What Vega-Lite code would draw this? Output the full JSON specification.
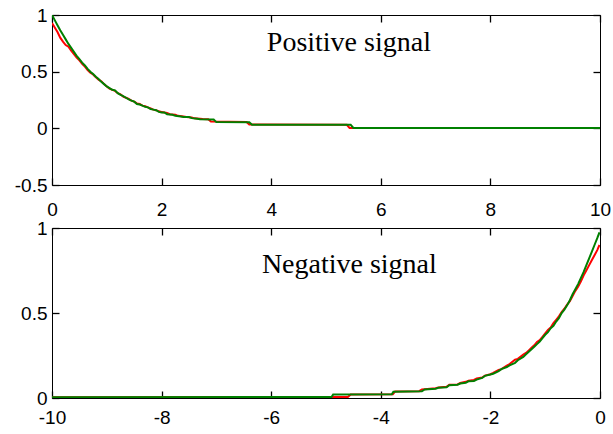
{
  "$schema": "https://vega.github.io/schema/vega-lite/v6.json",
  "padding": {"left": 13, "top": 5, "right": 1, "bottom": 2},
  "background": "white",
  "spacing": 43,
  "bounds": "flush",
  "config": {
    "view": {"stroke": "black", "strokeWidth": 1},
    "axis": {
      "grid": false,
      "title": null,
      "domain": false,
      "ticks": true,
      "tickColor": "black",
      "tickWidth": 1.3,
      "tickSize": 7,
      "offset": -7,
      "labelColor": "black",
      "labelFont": "Liberation Sans",
      "labelFontSize": 19,
      "labelFlush": false,
      "labelOverlap": false,
      "labelExpr": "'' + datum.value"
    }
  },
  "datasets": {
    "pos": [
      {"series": "red", "x": 0, "y": 0.93}, {"series": "red", "x": 0.05, "y": 0.89}, {"series": "red", "x": 0.1, "y": 0.85}, {"series": "red", "x": 0.15, "y": 0.8}, {"series": "red", "x": 0.2, "y": 0.765}, {"series": "red", "x": 0.25, "y": 0.735}, {"series": "red", "x": 0.3, "y": 0.72}, {"series": "red", "x": 0.35, "y": 0.685}, {"series": "red", "x": 0.4, "y": 0.655}, {"series": "red", "x": 0.45, "y": 0.625}, {"series": "red", "x": 0.5, "y": 0.6}, {"series": "red", "x": 0.55, "y": 0.57}, {"series": "red", "x": 0.6, "y": 0.545}, {"series": "red", "x": 0.65, "y": 0.515}, {"series": "red", "x": 0.7, "y": 0.49}, {"series": "red", "x": 0.75, "y": 0.475}, {"series": "red", "x": 0.8, "y": 0.45}, {"series": "red", "x": 0.85, "y": 0.43}, {"series": "red", "x": 0.9, "y": 0.415}, {"series": "red", "x": 0.95, "y": 0.39}, {"series": "red", "x": 1.0, "y": 0.37}, {"series": "red", "x": 1.05, "y": 0.35}, {"series": "red", "x": 1.1, "y": 0.34}, {"series": "red", "x": 1.15, "y": 0.33}, {"series": "red", "x": 1.2, "y": 0.31}, {"series": "red", "x": 1.25, "y": 0.3}, {"series": "red", "x": 1.3, "y": 0.28}, {"series": "red", "x": 1.35, "y": 0.27}, {"series": "red", "x": 1.4, "y": 0.26}, {"series": "red", "x": 1.45, "y": 0.245}, {"series": "red", "x": 1.5, "y": 0.235}, {"series": "red", "x": 1.55, "y": 0.22}, {"series": "red", "x": 1.6, "y": 0.215}, {"series": "red", "x": 1.65, "y": 0.2}, {"series": "red", "x": 1.7, "y": 0.195}, {"series": "red", "x": 1.75, "y": 0.185}, {"series": "red", "x": 1.8, "y": 0.175}, {"series": "red", "x": 1.85, "y": 0.165}, {"series": "red", "x": 1.9, "y": 0.16}, {"series": "red", "x": 1.95, "y": 0.15}, {"series": "red", "x": 2.0, "y": 0.145}, {"series": "red", "x": 2.1, "y": 0.135}, {"series": "red", "x": 2.15, "y": 0.125}, {"series": "red", "x": 2.25, "y": 0.12}, {"series": "red", "x": 2.3, "y": 0.11}, {"series": "red", "x": 2.4, "y": 0.105}, {"series": "red", "x": 2.45, "y": 0.1}, {"series": "red", "x": 2.55, "y": 0.095}, {"series": "red", "x": 2.6, "y": 0.088}, {"series": "red", "x": 2.75, "y": 0.082}, {"series": "red", "x": 2.85, "y": 0.08}, {"series": "red", "x": 2.9, "y": 0.06}, {"series": "red", "x": 3.55, "y": 0.056}, {"series": "red", "x": 3.6, "y": 0.033}, {"series": "red", "x": 5.38, "y": 0.031}, {"series": "red", "x": 5.43, "y": 0.003}, {"series": "red", "x": 10, "y": 0.002},
      {"series": "green", "x": 0, "y": 1.0}, {"series": "green", "x": 0.05, "y": 0.955}, {"series": "green", "x": 0.1, "y": 0.91}, {"series": "green", "x": 0.15, "y": 0.865}, {"series": "green", "x": 0.2, "y": 0.825}, {"series": "green", "x": 0.25, "y": 0.785}, {"series": "green", "x": 0.3, "y": 0.745}, {"series": "green", "x": 0.35, "y": 0.71}, {"series": "green", "x": 0.4, "y": 0.675}, {"series": "green", "x": 0.45, "y": 0.64}, {"series": "green", "x": 0.5, "y": 0.61}, {"series": "green", "x": 0.55, "y": 0.58}, {"series": "green", "x": 0.6, "y": 0.555}, {"series": "green", "x": 0.65, "y": 0.525}, {"series": "green", "x": 0.7, "y": 0.5}, {"series": "green", "x": 0.75, "y": 0.48}, {"series": "green", "x": 0.8, "y": 0.455}, {"series": "green", "x": 0.85, "y": 0.435}, {"series": "green", "x": 0.9, "y": 0.41}, {"series": "green", "x": 0.95, "y": 0.39}, {"series": "green", "x": 1.0, "y": 0.37}, {"series": "green", "x": 1.05, "y": 0.355}, {"series": "green", "x": 1.1, "y": 0.34}, {"series": "green", "x": 1.15, "y": 0.335}, {"series": "green", "x": 1.2, "y": 0.31}, {"series": "green", "x": 1.25, "y": 0.295}, {"series": "green", "x": 1.3, "y": 0.285}, {"series": "green", "x": 1.35, "y": 0.27}, {"series": "green", "x": 1.4, "y": 0.255}, {"series": "green", "x": 1.45, "y": 0.245}, {"series": "green", "x": 1.5, "y": 0.235}, {"series": "green", "x": 1.55, "y": 0.215}, {"series": "green", "x": 1.6, "y": 0.21}, {"series": "green", "x": 1.65, "y": 0.2}, {"series": "green", "x": 1.7, "y": 0.19}, {"series": "green", "x": 1.75, "y": 0.185}, {"series": "green", "x": 1.8, "y": 0.17}, {"series": "green", "x": 1.85, "y": 0.165}, {"series": "green", "x": 1.9, "y": 0.16}, {"series": "green", "x": 1.95, "y": 0.145}, {"series": "green", "x": 2.0, "y": 0.14}, {"series": "green", "x": 2.05, "y": 0.14}, {"series": "green", "x": 2.1, "y": 0.125}, {"series": "green", "x": 2.2, "y": 0.12}, {"series": "green", "x": 2.25, "y": 0.11}, {"series": "green", "x": 2.35, "y": 0.105}, {"series": "green", "x": 2.4, "y": 0.1}, {"series": "green", "x": 2.5, "y": 0.1}, {"series": "green", "x": 2.55, "y": 0.09}, {"series": "green", "x": 2.65, "y": 0.085}, {"series": "green", "x": 2.7, "y": 0.08}, {"series": "green", "x": 2.95, "y": 0.078}, {"series": "green", "x": 3.0, "y": 0.055}, {"series": "green", "x": 3.6, "y": 0.054}, {"series": "green", "x": 3.65, "y": 0.031}, {"series": "green", "x": 5.45, "y": 0.031}, {"series": "green", "x": 5.5, "y": 0.003}, {"series": "green", "x": 10, "y": 0.002}
    ],
    "neg": [
      {"series": "red", "x": -10, "y": 0.005}, {"series": "red", "x": -4.6, "y": 0.006}, {"series": "red", "x": -4.55, "y": 0.02}, {"series": "red", "x": -3.78, "y": 0.022}, {"series": "red", "x": -3.74, "y": 0.038}, {"series": "red", "x": -3.3, "y": 0.04}, {"series": "red", "x": -3.25, "y": 0.05}, {"series": "red", "x": -3.0, "y": 0.058}, {"series": "red", "x": -2.95, "y": 0.062}, {"series": "red", "x": -2.8, "y": 0.066}, {"series": "red", "x": -2.75, "y": 0.078}, {"series": "red", "x": -2.6, "y": 0.08}, {"series": "red", "x": -2.55, "y": 0.088}, {"series": "red", "x": -2.45, "y": 0.095}, {"series": "red", "x": -2.4, "y": 0.102}, {"series": "red", "x": -2.3, "y": 0.106}, {"series": "red", "x": -2.25, "y": 0.115}, {"series": "red", "x": -2.15, "y": 0.12}, {"series": "red", "x": -2.1, "y": 0.132}, {"series": "red", "x": -2.0, "y": 0.14}, {"series": "red", "x": -1.95, "y": 0.148}, {"series": "red", "x": -1.85, "y": 0.165}, {"series": "red", "x": -1.8, "y": 0.17}, {"series": "red", "x": -1.7, "y": 0.19}, {"series": "red", "x": -1.65, "y": 0.2}, {"series": "red", "x": -1.55, "y": 0.225}, {"series": "red", "x": -1.5, "y": 0.23}, {"series": "red", "x": -1.4, "y": 0.255}, {"series": "red", "x": -1.35, "y": 0.265}, {"series": "red", "x": -1.3, "y": 0.28}, {"series": "red", "x": -1.25, "y": 0.295}, {"series": "red", "x": -1.2, "y": 0.31}, {"series": "red", "x": -1.15, "y": 0.33}, {"series": "red", "x": -1.1, "y": 0.34}, {"series": "red", "x": -1.05, "y": 0.36}, {"series": "red", "x": -1.0, "y": 0.38}, {"series": "red", "x": -0.95, "y": 0.4}, {"series": "red", "x": -0.9, "y": 0.415}, {"series": "red", "x": -0.85, "y": 0.44}, {"series": "red", "x": -0.8, "y": 0.46}, {"series": "red", "x": -0.75, "y": 0.48}, {"series": "red", "x": -0.7, "y": 0.505}, {"series": "red", "x": -0.65, "y": 0.525}, {"series": "red", "x": -0.6, "y": 0.55}, {"series": "red", "x": -0.55, "y": 0.57}, {"series": "red", "x": -0.5, "y": 0.6}, {"series": "red", "x": -0.45, "y": 0.63}, {"series": "red", "x": -0.4, "y": 0.655}, {"series": "red", "x": -0.35, "y": 0.685}, {"series": "red", "x": -0.3, "y": 0.72}, {"series": "red", "x": -0.25, "y": 0.75}, {"series": "red", "x": -0.2, "y": 0.78}, {"series": "red", "x": -0.15, "y": 0.81}, {"series": "red", "x": -0.1, "y": 0.84}, {"series": "red", "x": -0.05, "y": 0.87}, {"series": "red", "x": -0.01, "y": 0.9},
      {"series": "green", "x": -10, "y": 0.005}, {"series": "green", "x": -4.9, "y": 0.006}, {"series": "green", "x": -4.87, "y": 0.02}, {"series": "green", "x": -3.8, "y": 0.022}, {"series": "green", "x": -3.77, "y": 0.037}, {"series": "green", "x": -3.25, "y": 0.039}, {"series": "green", "x": -3.2, "y": 0.05}, {"series": "green", "x": -3.0, "y": 0.055}, {"series": "green", "x": -2.95, "y": 0.06}, {"series": "green", "x": -2.8, "y": 0.063}, {"series": "green", "x": -2.75, "y": 0.075}, {"series": "green", "x": -2.6, "y": 0.078}, {"series": "green", "x": -2.55, "y": 0.085}, {"series": "green", "x": -2.45, "y": 0.09}, {"series": "green", "x": -2.4, "y": 0.098}, {"series": "green", "x": -2.3, "y": 0.1}, {"series": "green", "x": -2.25, "y": 0.108}, {"series": "green", "x": -2.15, "y": 0.118}, {"series": "green", "x": -2.1, "y": 0.13}, {"series": "green", "x": -2.0, "y": 0.138}, {"series": "green", "x": -1.95, "y": 0.143}, {"series": "green", "x": -1.85, "y": 0.158}, {"series": "green", "x": -1.8, "y": 0.17}, {"series": "green", "x": -1.7, "y": 0.182}, {"series": "green", "x": -1.65, "y": 0.192}, {"series": "green", "x": -1.55, "y": 0.207}, {"series": "green", "x": -1.5, "y": 0.222}, {"series": "green", "x": -1.4, "y": 0.242}, {"series": "green", "x": -1.35, "y": 0.257}, {"series": "green", "x": -1.3, "y": 0.272}, {"series": "green", "x": -1.25, "y": 0.287}, {"series": "green", "x": -1.2, "y": 0.302}, {"series": "green", "x": -1.15, "y": 0.317}, {"series": "green", "x": -1.1, "y": 0.332}, {"series": "green", "x": -1.05, "y": 0.352}, {"series": "green", "x": -1.0, "y": 0.372}, {"series": "green", "x": -0.95, "y": 0.387}, {"series": "green", "x": -0.9, "y": 0.41}, {"series": "green", "x": -0.85, "y": 0.425}, {"series": "green", "x": -0.8, "y": 0.45}, {"series": "green", "x": -0.75, "y": 0.47}, {"series": "green", "x": -0.7, "y": 0.5}, {"series": "green", "x": -0.65, "y": 0.52}, {"series": "green", "x": -0.6, "y": 0.545}, {"series": "green", "x": -0.55, "y": 0.575}, {"series": "green", "x": -0.5, "y": 0.61}, {"series": "green", "x": -0.45, "y": 0.64}, {"series": "green", "x": -0.4, "y": 0.67}, {"series": "green", "x": -0.35, "y": 0.705}, {"series": "green", "x": -0.3, "y": 0.74}, {"series": "green", "x": -0.25, "y": 0.78}, {"series": "green", "x": -0.2, "y": 0.82}, {"series": "green", "x": -0.15, "y": 0.86}, {"series": "green", "x": -0.1, "y": 0.9}, {"series": "green", "x": -0.05, "y": 0.94}, {"series": "green", "x": -0.01, "y": 0.975}
    ],
    "posLabel": [{"x": 3.92, "y": 0.684, "label": "Positive signal"}],
    "negLabel": [{"x": -6.17, "y": 0.735, "label": "Negative signal"}]
  },
  "vconcat": [
    {
      "width": 548,
      "height": 170,
      "resolve": {"axis": {"x": "independent", "y": "independent"}},
      "layer": [
        {
          "data": {"name": "pos"},
          "transform": [{"filter": "datum.series === 'red'"}],
          "mark": {"type": "line", "color": "#ff0000", "strokeWidth": 2, "clip": true},
          "encoding": {
            "x": {"field": "x", "type": "quantitative", "scale": {"domain": [0, 10], "nice": false, "zero": false},
                  "axis": {"orient": "bottom", "values": [0, 2, 4, 6, 8, 10], "labelPadding": 15}},
            "y": {"field": "y", "type": "quantitative", "scale": {"domain": [-0.5, 1], "nice": false, "zero": false},
                  "axis": {"orient": "left", "values": [-0.5, 0, 0.5, 1], "labelPadding": 5}}
          }
        },
        {
          "data": {"name": "pos"},
          "transform": [{"filter": "datum.series === 'green'"}],
          "mark": {"type": "line", "color": "#008000", "strokeWidth": 2, "clip": true},
          "encoding": {
            "x": {"field": "x", "type": "quantitative", "axis": null},
            "y": {"field": "y", "type": "quantitative", "axis": null}
          }
        },
        {
          "data": {"name": "posLabel"},
          "mark": {"type": "text", "align": "left", "baseline": "alphabetic", "font": "Liberation Serif", "fontSize": 28, "color": "black"},
          "encoding": {
            "x": {"field": "x", "type": "quantitative",
                  "axis": {"orient": "top", "labels": false, "values": [0, 2, 4, 6, 8, 10]}},
            "y": {"field": "y", "type": "quantitative",
                  "axis": {"orient": "right", "labels": false, "values": [-0.5, 0, 0.5, 1]}},
            "text": {"field": "label"}
          }
        }
      ]
    },
    {
      "width": 548,
      "height": 170,
      "resolve": {"axis": {"x": "independent", "y": "independent"}},
      "layer": [
        {
          "data": {"name": "neg"},
          "transform": [{"filter": "datum.series === 'red'"}],
          "mark": {"type": "line", "color": "#ff0000", "strokeWidth": 2, "clip": true},
          "encoding": {
            "x": {"field": "x", "type": "quantitative", "scale": {"domain": [-10, 0], "nice": false, "zero": false},
                  "axis": {"orient": "bottom", "values": [-10, -8, -6, -4, -2, 0], "labelPadding": 10}},
            "y": {"field": "y", "type": "quantitative", "scale": {"domain": [0, 1], "nice": false, "zero": false},
                  "axis": {"orient": "left", "values": [0, 0.5, 1], "labelPadding": 5}}
          }
        },
        {
          "data": {"name": "neg"},
          "transform": [{"filter": "datum.series === 'green'"}],
          "mark": {"type": "line", "color": "#008000", "strokeWidth": 2, "clip": true},
          "encoding": {
            "x": {"field": "x", "type": "quantitative", "axis": null},
            "y": {"field": "y", "type": "quantitative", "axis": null}
          }
        },
        {
          "data": {"name": "negLabel"},
          "mark": {"type": "text", "align": "left", "baseline": "alphabetic", "font": "Liberation Serif", "fontSize": 28, "color": "black"},
          "encoding": {
            "x": {"field": "x", "type": "quantitative",
                  "axis": {"orient": "top", "labels": false, "values": [-10, -8, -6, -4, -2, 0]}},
            "y": {"field": "y", "type": "quantitative",
                  "axis": {"orient": "right", "labels": false, "values": [0, 0.5, 1]}},
            "text": {"field": "label"}
          }
        }
      ]
    }
  ]
}
